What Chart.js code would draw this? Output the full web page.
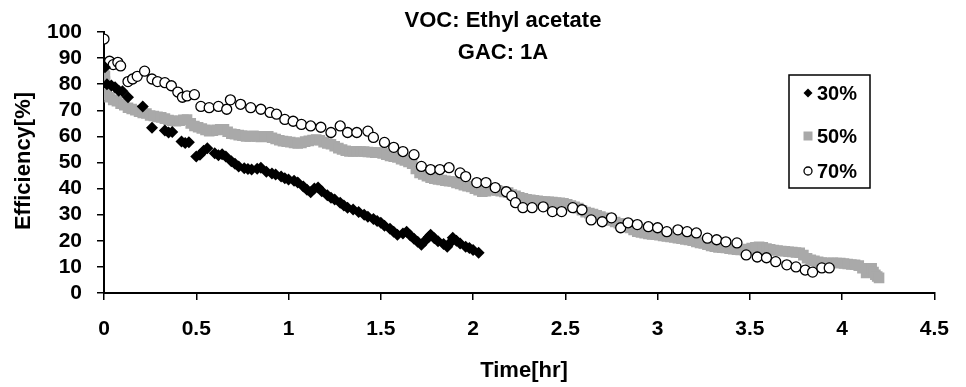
<!DOCTYPE html>
<html>
<head>
<meta charset="utf-8">
<title>VOC: Ethyl acetate / GAC: 1A</title>
<script src="https://cdn.jsdelivr.net/npm/chart.js@4.4.1/dist/chart.umd.min.js"></script>
<style>
  html, body { margin: 0; padding: 0; background: #fff; }
  #wrap { width: 966px; height: 387px; }
</style>
</head>
<body>
<div id="wrap"><canvas id="c" width="966" height="387"></canvas></div>
<script>
// Breakthrough efficiency of ethyl acetate on GAC 1A at three relative humidities

const titleLines = ['VOC: Ethyl acetate', 'GAC: 1A'];
const xTitle = 'Time[hr]';
const yTitle = 'Efficiency[%]';
const seriesNames = ['30%', '50%', '70%'];
const xTicks = [0, 0.5, 1, 1.5, 2, 2.5, 3, 3.5, 4, 4.5];
const yTicks = [0, 10, 20, 30, 40, 50, 60, 70, 80, 90, 100];

// 30% RH
const time30 = [0.005, 0.016, 0.04, 0.06, 0.08, 0.10, 0.13, 0.21, 0.26, 0.33, 0.35, 0.37,
  0.42, 0.44, 0.46, 0.50, 0.52, 0.54, 0.56, 0.60, 0.62, 0.64, 0.66, 0.69, 0.71, 0.73,
  0.76, 0.78, 0.80, 0.83, 0.85, 0.88, 0.91, 0.93, 0.96, 0.98, 1.00, 1.03, 1.05, 1.08,
  1.10, 1.12, 1.14, 1.16, 1.18, 1.21, 1.23, 1.25, 1.28, 1.30, 1.32, 1.35, 1.38, 1.41,
  1.43, 1.46, 1.48, 1.50, 1.52, 1.55, 1.57, 1.59, 1.62, 1.64, 1.66, 1.68, 1.70, 1.72,
  1.74, 1.76, 1.77, 1.79, 1.81, 1.84, 1.86, 1.88, 1.89, 1.91, 1.93, 1.96, 1.98, 2.00, 2.03];
const eff30 = [86.5, 80, 79.5, 78.8, 77.5, 77.3, 75, 71.5, 63.3, 62.3, 61.5, 61.7,
  58, 57.5, 57.8, 52.3, 53, 54.5, 55.5, 53.5, 52.8, 53.2, 52.3, 50.5, 49.5, 48.5,
  47.8, 47.5, 47.3, 47.6, 48, 46.5, 45.8, 45.4, 44.6, 44, 43.5, 43, 42.3, 40.8,
  39.6, 38.6, 40, 40.4, 39, 37.5, 36.5, 35.8, 34.6, 33.5, 32.7, 32, 31, 30,
  29.2, 28.4, 27.6, 26.9, 25.8, 24.6, 23.5, 22.3, 22.8, 23.5, 22, 20.8, 19.6, 18.5,
  20, 21.5, 22.3, 21, 19.8, 18.8, 17.7, 19.5, 21.2, 20, 19, 17.7, 17.2, 16.5, 15.4];

// 50% RH
const time50 = [0, 0, 0.005, 0.005, 0.01, 0.01, 0.015,
  0.03, 0.05, 0.07, 0.09, 0.11, 0.13, 0.15, 0.17, 0.19, 0.21, 0.23, 0.25, 0.27, 0.29,
  0.31, 0.33, 0.35, 0.37, 0.39, 0.41, 0.43, 0.45, 0.47, 0.49, 0.51, 0.53, 0.55, 0.57,
  0.59, 0.61, 0.63, 0.65, 0.67, 0.69, 0.71, 0.73, 0.75, 0.77, 0.79, 0.81, 0.83, 0.85,
  0.87, 0.89, 0.91, 0.93, 0.95, 0.97, 0.99, 1.01, 1.03, 1.05, 1.07, 1.09, 1.11, 1.13,
  1.15, 1.17, 1.19, 1.21, 1.23, 1.25, 1.27, 1.29, 1.31, 1.33, 1.35, 1.37, 1.39, 1.41,
  1.43, 1.45, 1.47, 1.49, 1.51, 1.53, 1.55, 1.57, 1.59, 1.61, 1.63, 1.65, 1.67, 1.69,
  1.71, 1.73, 1.75, 1.77, 1.79, 1.81, 1.83, 1.85, 1.87, 1.89, 1.91, 1.93, 1.95, 1.97,
  1.99, 2.01, 2.03, 2.05, 2.07, 2.09, 2.11, 2.13, 2.15, 2.17, 2.19, 2.21, 2.23, 2.25,
  2.27, 2.29, 2.31, 2.33, 2.35, 2.37, 2.39, 2.41, 2.43, 2.45, 2.47, 2.49, 2.51, 2.53,
  2.55, 2.57, 2.59, 2.61, 2.63, 2.65, 2.67, 2.69, 2.71, 2.73, 2.75, 2.77, 2.79, 2.81,
  2.83, 2.85, 2.87, 2.89, 2.91, 2.93, 2.95, 2.97, 2.99, 3.01, 3.03, 3.05, 3.07, 3.09,
  3.11, 3.13, 3.15, 3.17, 3.19, 3.21, 3.23, 3.25, 3.27, 3.29, 3.31, 3.33, 3.35, 3.37,
  3.39, 3.41, 3.43, 3.45, 3.47, 3.49, 3.51, 3.53, 3.55, 3.57, 3.59, 3.61, 3.63, 3.65,
  3.67, 3.69, 3.71, 3.73, 3.75, 3.77, 3.79, 3.81, 3.83, 3.85, 3.87, 3.89, 3.91, 3.93,
  3.95, 3.97, 3.99, 4.01, 4.03, 4.05, 4.07, 4.09, 4.11, 4.13, 4.15, 4.16, 4.17, 4.18,
  4.19, 4.20];
const eff50 = [87, 85, 83, 81, 79, 77, 76,
  75, 74, 73.5, 72.5, 72, 71, 70.5, 70, 69.5, 69, 68.8, 68, 67.8, 67.5,
  67.3, 66.8, 66.3, 66, 65.8, 66, 66.4, 66.5, 65, 64, 63.5, 63, 62.5, 62,
  62.2, 62.5, 62.7, 62.7, 61.8, 61, 60.8, 60.5, 60.3, 60, 60, 60.2, 60, 59.8,
  60, 60, 59.5, 59, 58.5, 58.2, 58, 57.8, 57.5, 57.3, 57.5, 58, 58.3, 58.6,
  58.8, 58.5, 57.8, 57.3, 57, 56.2, 55.5, 55, 54.5, 54.2, 54.2, 54.3, 54.2, 54.2,
  54, 53.9, 53.8, 53.8, 53.5, 53, 52.5, 52.2, 51.9, 51.3, 50.8, 50.2, 49.5, 47.5,
  46, 45.4, 44.8, 44.2, 43.8, 43.5, 43.3, 43, 42.8, 42.7, 42.2, 41.8, 41.3, 40.9,
  40.6, 40, 39.4, 38.8, 39, 39.4, 39.6, 39.3, 39, 38.7, 38.5, 37.7, 37.2, 36.7,
  36.3, 35.9, 35.7, 35.5, 35.3, 35.1, 35, 34.9, 34.8, 34.7, 34.6, 34.4, 34, 33.5,
  33, 32.5, 31.7, 31, 30.6, 30.2, 29.8, 29.3, 28.8, 28.3, 27.8, 27.2, 26.7, 26.2,
  25.6, 24.9, 24.2, 23.5, 23.2, 22.9, 22.6, 22.4, 22.3, 22.1, 21.9, 21.7, 21.5, 21.3,
  21, 20.8, 20.5, 20.3, 20, 19.6, 19.2, 19, 18.5, 18, 17.7, 17.5, 17.4, 17.3,
  17, 16.8, 16.6, 16.5, 16.5, 16.8, 17.2, 17.5, 17.7, 17.5, 17, 16.7, 16.5, 16.3,
  16.1, 16, 15.8, 15.7, 15.5, 15.4, 14.5, 13.3, 12.7, 12.3, 12, 11.7, 11.5, 11.5,
  11.6, 11.5, 11.5, 11.3, 11.1, 10.9, 10.8, 10.5, 9.5, 7.7, 8.5, 9.5, 8, 7,
  6.3, 5.8];

// 70% RH
const time70 = [0.0, 0.03, 0.05, 0.075, 0.09, 0.13, 0.155, 0.18, 0.22, 0.26, 0.29, 0.33,
  0.365, 0.40, 0.425, 0.45, 0.49, 0.525, 0.57, 0.62, 0.665, 0.685, 0.74, 0.795, 0.85,
  0.90, 0.935, 0.98, 1.025, 1.07, 1.12, 1.175, 1.23, 1.28, 1.32, 1.37, 1.43, 1.46,
  1.52, 1.57, 1.62, 1.68, 1.72, 1.77, 1.82, 1.87, 1.93, 1.96, 2.02, 2.07, 2.12, 2.18,
  2.21, 2.23, 2.27, 2.32, 2.38, 2.43, 2.48, 2.54, 2.59, 2.64, 2.70, 2.75, 2.80, 2.84,
  2.89, 2.95, 3.00, 3.05, 3.11, 3.16, 3.21, 3.27, 3.32, 3.37, 3.43, 3.48, 3.54, 3.59,
  3.64, 3.70, 3.75, 3.80, 3.84, 3.89, 3.93];
const eff70 = [97.3, 88.8, 87.5, 88.4, 87, 81, 82, 83, 85, 82, 81, 80.6,
  79.4, 77, 75, 75.5, 76, 71.5, 71, 71.5, 70.4, 74, 72.3, 71, 70.4,
  69.2, 68.5, 66.5, 65.8, 64.6, 64, 63.5, 61.5, 64, 61.5, 61.5, 62, 59.6,
  57.7, 55.8, 54.2, 53, 48.5, 47.3, 47.3, 48, 46, 44.6, 42.3, 42.3, 40.4, 38.8,
  37.2, 34.6, 32.7, 32.7, 33, 31.2, 31.2, 32.7, 31.9, 28, 27.3, 28.8, 25, 26.9,
  26.2, 25.4, 25, 23.5, 24.2, 23.5, 23, 21, 20.4, 19.6, 19.2, 14.6, 13.8, 13.5,
  12, 10.8, 10, 8.8, 8, 9.6, 9.6];

const toPoints = (xs, ys) => xs.map((x, i) => ({ x: x, y: ys[i] }));

const FONT = '"Liberation Sans", Arial, Helvetica, sans-serif';

// Plot-area geometry (canvas pixels)
const PLOT_LEFT = 104, PLOT_TOP = 32, PLOT_BOTTOM = 293, PLOT_RIGHT = 943;

const styles = [
  { pointStyle: 'rectRot', pointRadius: 6, backgroundColor: '#000000', borderColor: '#000000', borderWidth: 0 },
  { pointStyle: 'rect', pointRadius: 7.5, backgroundColor: '#a9a9a9', borderColor: '#a9a9a9', borderWidth: 0 },
  { pointStyle: 'circle', pointRadius: 5, backgroundColor: '#ffffff', borderColor: '#000000', borderWidth: 1.3 }
];

const datasets = [
  Object.assign({ label: seriesNames[0], data: toPoints(time30, eff30), order: 1 }, styles[0]),
  Object.assign({ label: seriesNames[1], data: toPoints(time50, eff50), order: 3 }, styles[1]),
  Object.assign({ label: seriesNames[2], data: toPoints(time70, eff70), order: 2 }, styles[2])
];
datasets.forEach(d => { d.pointHoverRadius = d.pointRadius; d.showLine = false; });

function drawMarker(ctx, style, r, x, y) {
  if (style === 'rectRot') {
    ctx.moveTo(x, y - r); ctx.lineTo(x + r, y); ctx.lineTo(x, y + r); ctx.lineTo(x - r, y); ctx.closePath();
  } else if (style === 'rect') {
    ctx.rect(x - r, y - r, 2 * r, 2 * r);
  } else {
    ctx.arc(x, y, r, 0, Math.PI * 2);
  }
}

// Titles, axis titles and the boxed legend inside the plot
const annotations = {
  id: 'annotations',
  afterDraw(chart) {
    const ctx = chart.ctx;
    ctx.save();
    ctx.fillStyle = '#000';
    ctx.textAlign = 'center';
    ctx.textBaseline = 'middle';
    ctx.font = 'bold 22px ' + FONT;
    ctx.fillText(titleLines[0], 503, 21);
    ctx.fillText(titleLines[1], 503, 53);

    ctx.fillText(xTitle, 524, 371);

    ctx.save();
    ctx.translate(24, 161);
    ctx.rotate(-Math.PI / 2);
    ctx.fillText(yTitle, 0, 0);
    ctx.restore();

    // legend box
    const bx = 789, by = 75, bw = 81, bh = 113;
    ctx.fillStyle = '#fff';
    ctx.fillRect(bx, by, bw, bh);
    ctx.strokeStyle = '#000';
    ctx.lineWidth = 1.5;
    ctx.strokeRect(bx, by, bw, bh);
    const rows = [93, 136, 171];
    const legendRadius = [4.5, 4.5, 4];
    ctx.font = 'bold 20px ' + FONT;
    ctx.textAlign = 'left';
    datasets.forEach((d, i) => {
      ctx.fillStyle = d.backgroundColor;
      ctx.strokeStyle = d.borderColor;
      ctx.lineWidth = d.borderWidth;
      ctx.beginPath();
      drawMarker(ctx, d.pointStyle, legendRadius[i], 808, rows[i]);
      ctx.fill();
      if (d.borderWidth) ctx.stroke();
      ctx.fillStyle = '#000';
      ctx.fillText(seriesNames[i], 817, rows[i] + 1);
    });
    ctx.restore();
  }
};

new Chart(document.getElementById('c'), {
  type: 'scatter',
  data: { datasets: datasets },
  plugins: [annotations],
  options: {
    responsive: false,
    animation: false,
    devicePixelRatio: 1,
    layout: { padding: { left: 0, top: PLOT_TOP, right: 966 - PLOT_RIGHT, bottom: 0 } },
    plugins: {
      legend: { display: false },
      title: { display: false },
      tooltip: { enabled: false }
    },
    scales: {
      x: {
        type: 'linear',
        min: 0, max: 4.5,
        afterBuildTicks: s => { s.ticks = xTicks.map(v => ({ value: v })); },
        afterFit: s => { s.height = 387 - PLOT_BOTTOM; },
        border: { display: true, color: '#000', width: 2 },
        grid: { display: true, drawOnChartArea: false, drawTicks: true, tickLength: 7, color: '#000', lineWidth: 1.5 },
        ticks: {
          color: '#000', padding: 17, maxRotation: 0, autoSkip: false,
          font: { family: FONT, size: 21, weight: 'bold' },
          callback: v => String(v)
        }
      },
      y: {
        type: 'linear',
        min: 0, max: 100,
        afterBuildTicks: s => { s.ticks = yTicks.map(v => ({ value: v })); },
        afterFit: s => { s.width = PLOT_LEFT; },
        border: { display: true, color: '#000', width: 2 },
        grid: { display: true, drawOnChartArea: false, drawTicks: true, tickLength: 7, color: '#000', lineWidth: 1.5 },
        ticks: {
          color: '#000', padding: 15, autoSkip: false,
          font: { family: FONT, size: 21, weight: 'bold' },
          callback: v => String(v)
        }
      }
    }
  }
});
</script>
</body>
</html>
